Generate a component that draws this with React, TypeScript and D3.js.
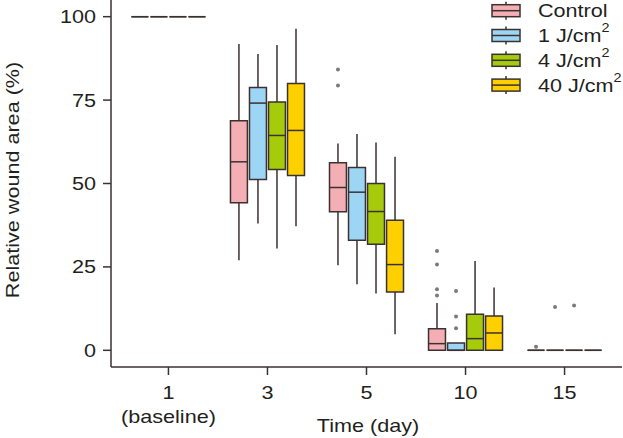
import { useEffect } from 'react';
import * as d3 from 'd3';

// Days on the x axis
const DAYS = ['1', '3', '5', '10', '15'];
const DAY_SUBLABELS = ['(baseline)', '', '', '', ''];

const GROUPS = ['Control', '1 J/cm', '4 J/cm', '40 J/cm'];
const COLORS = ['#F4AFB5', '#9DD6F4', '#A5CB0A', '#FFD000'];

// per day: [lower whisker, q1, median, q3, upper whisker]
const CONTROL = [
    [100, 100, 100, 100, 100],
    [27, 44.2, 56.5, 68.8, 91.8],
    [25.5, 41.5, 48.8, 56.2, 62],
    [0, 0, 2, 6.5, 14.2],
    [0, 0, 0, 0, 0],
];
const J1 = [
    [100, 100, 100, 100, 100],
    [38, 51.2, 74.1, 78.8, 88.8],
    [19.8, 33, 47.4, 54.8, 64.8],
    [0, 0, 0, 2.2, 2.2],
    [0, 0, 0, 0, 0],
];
const J4 = [
    [100, 100, 100, 100, 100],
    [30.5, 54.2, 64.4, 74.4, 91.5],
    [17, 31.8, 41.6, 50, 62.3],
    [0, 0, 3.5, 10.8, 26.8],
    [0, 0, 0, 0, 0],
];
const J40 = [
    [100, 100, 100, 100, 100],
    [37.2, 52.4, 65.9, 80, 96.4],
    [4.8, 17.5, 25.7, 39, 58],
    [0, 0, 5.2, 10.3, 18.8],
    [0, 0, 0, 0, 0],
];

const CONTROL_OUT = [[], [], [84.2, 79.4], [16.4, 18.3, 25.7, 29.8], [1.1]];
const J1_OUT = [[], [], [], [17.8, 10.1, 6.6], [13]];
const J4_OUT = [[], [], [], [], [13.4]];
const J40_OUT: number[][] = [[], [], [], [], []];

const Y_TICKS = [0, 25, 50, 75, 100];

const STATS = [CONTROL, J1, J4, J40];
const OUTLIERS = [CONTROL_OUT, J1_OUT, J4_OUT, J40_OUT];

const INK = '#3b3131';
const TEXT = '#231f20';
const FONT = '"Liberation Sans", Arial, Helvetica, sans-serif';
const STRETCH = 1.2; // the original font is a wide grotesque

function Label({ x, y, anchor = 'start', rotate = 0, children }: any) {
    return (
        <text
            transform={`translate(${x},${y}) rotate(${rotate}) scale(${STRETCH},1)`}
            dy="0.36em"
            textAnchor={anchor}
            fontSize={18}
            fill={TEXT}
        >
            {children}
        </text>
    );
}

export default function App() {
    useEffect(() => {
        document.body.style.margin = '0';
    }, []);

    const width = 623;
    const height = 438;
    const left = 111;
    const right = 622;
    const bottom = 367;

    const x = d3.scalePoint<string>().domain(DAYS).range([left, right]).padding(0.58);
    const sub = d3.scaleBand<string>().domain(GROUPS).range([-37, 37]).paddingInner(0.11);
    const y = d3.scaleLinear().domain([-5, 105]).range([bottom, 0]);

    const bw = sub.bandwidth();

    const boxes: any[] = [];
    STATS.forEach((series, gi) => {
        series.forEach((s, di) => {
            const cx = (x(DAYS[di]) as number) + (sub(GROUPS[gi]) as number) + bw / 2;
            const x0 = cx - bw / 2;
            const x1 = cx + bw / 2;
            const [lo, q1, med, q3, hi] = s.map(v => y(v));
            boxes.push(
                <g key={`b${gi}-${di}`}>
                    <line x1={cx} x2={cx} y1={q3} y2={hi} stroke={INK} strokeWidth={1.5} />
                    <line x1={cx} x2={cx} y1={q1} y2={lo} stroke={INK} strokeWidth={1.5} />
                    <path
                        d={`M${x0},${q3}H${x1}V${q1}H${x0}Z`}
                        fill={COLORS[gi]}
                        stroke={INK}
                        strokeWidth={1.5}
                    />
                    <line x1={x0} x2={x1} y1={med} y2={med} stroke={INK} strokeWidth={1.5} />
                    {OUTLIERS[gi][di].map((v, k) => (
                        <circle key={k} cx={cx} cy={y(v)} r={2} fill="#7a7a7a" />
                    ))}
                </g>
            );
        });
    });

    return (
        <svg width={width} height={height} style={{ display: 'block' }} fontFamily={FONT}>
            {/* axes */}
            <line x1={left} x2={left} y1={0} y2={bottom} stroke={INK} strokeWidth={1.5} />
            <line x1={left} x2={right} y1={bottom} y2={bottom} stroke={INK} strokeWidth={1.5} />
            {Y_TICKS.map(t => (
                <g key={t}>
                    <line x1={left - 8} x2={left} y1={y(t)} y2={y(t)} stroke={INK} strokeWidth={1.5} />
                    <Label x={96} y={y(t)} anchor="end">{t}</Label>
                </g>
            ))}
            {DAYS.map((d, i) => (
                <g key={d}>
                    <line x1={x(d)} x2={x(d)} y1={bottom} y2={bottom + 8} stroke={INK} strokeWidth={1.5} />
                    <Label x={x(d)} y={393} anchor="middle">{d}</Label>
                    {DAY_SUBLABELS[i] && (
                        <Label x={x(d)} y={417} anchor="middle">{DAY_SUBLABELS[i]}</Label>
                    )}
                </g>
            ))}
            <Label x={368} y={426} anchor="middle">Time (day)</Label>
            <Label x={13} y={180} anchor="middle" rotate={-90}>Relative wound area (%)</Label>

            {boxes}

            {/* legend */}
            {GROUPS.map((g, i) => {
                const cy = 10.7 + i * 24.8;
                return (
                    <g key={g}>
                        <line x1={506} x2={506} y1={cy - 9} y2={cy + 9} stroke={INK} strokeWidth={1.5} />
                        <rect x={492} y={cy - 6} width={28} height={12} fill={COLORS[i]} stroke={INK} strokeWidth={1.5} />
                        <line x1={492} x2={520} y1={cy} y2={cy} stroke={INK} strokeWidth={1.5} />
                        <Label x={538} y={cy}>
                            {g}
                            {i > 0 && (
                                <tspan fontSize={12} dy={-10}>
                                    2
                                </tspan>
                            )}
                        </Label>
                    </g>
                );
            })}
        </svg>
    );
}
